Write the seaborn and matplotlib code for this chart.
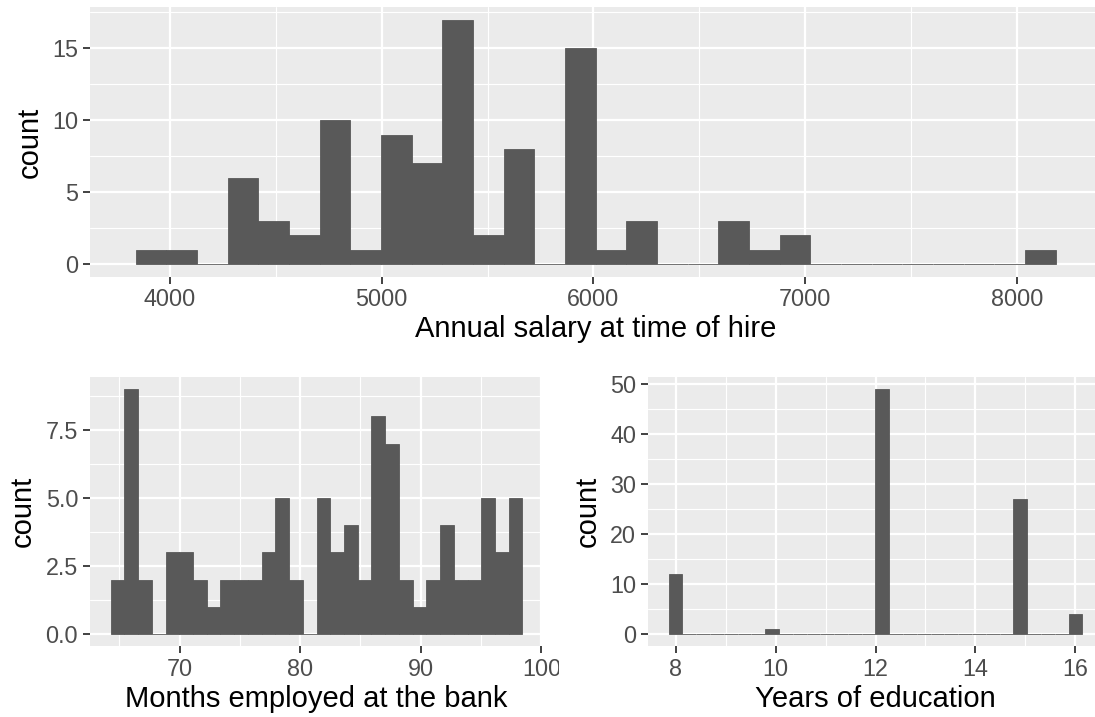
import numpy as np
import pandas as pd
import matplotlib
matplotlib.use("Agg")
import matplotlib.pyplot as plt
import seaborn as sns
from matplotlib.patches import Rectangle

# ------------------------------------------------------------
# Data (bin counts, 30 bins each)
# ------------------------------------------------------------
salary_bin_start = 3837.9
salary_bin_width = 144.83
salary_counts = [1, 1, 0, 6, 3, 2, 10, 1, 9, 7,
                 17, 2, 8, 0, 15, 1, 3, 0, 0, 3,
                 1, 2, 0, 0, 0, 0, 0, 0, 0, 1]

months_bin_start = 64.29
months_bin_width = 1.1379
months_counts = [2, 9, 2, 0, 3, 3, 2, 1, 2, 2,
                 2, 3, 5, 2, 0, 5, 3, 4, 2, 8,
                 7, 2, 1, 2, 4, 2, 2, 5, 3, 5]

educ_years = [8, 10, 12, 15, 16]
educ_counts = [12, 1, 49, 27, 4]
educ_bin_start = 7.862
educ_bin_width = 0.27586

n_bins = 30

BAR = "#595959"
BG = "#EBEBEB"

sns.set_theme(style="darkgrid")
plt.rcParams['font.family'] = ['Liberation Sans', 'DejaVu Sans']
plt.rcParams['axes.facecolor'] = BG
plt.rcParams['grid.color'] = 'white'

W, H = 1095, 717
fig = plt.figure(figsize=(W / 100, H / 100), dpi=100)
fig.patch.set_facecolor('white')

TICK_FS = 16.8
TITLE_FS = 21


def px_axes(x0, y0, x1, y1):
    return fig.add_axes([x0 / W, 1 - y1 / H, (x1 - x0) / W, (y1 - y0) / H])


def binned_frame(start, width, counts):
    edges = start + width * np.arange(len(counts) + 1)
    centers = (edges[:-1] + edges[1:]) / 2
    return pd.DataFrame({'x': centers, 'n': counts})


def draw_hist(ax, x, w, start, width):
    sns.histplot(x=x, weights=w, bins=n_bins,
                 binrange=(start, start + n_bins * width), ax=ax,
                 color=BAR, alpha=1, edgecolor=BAR, linewidth=0.6)


def style_axes(ax, xmajor, xminor, ymajor, yminor, ylabels=None):
    ax.set_xticks(xmajor, [str(v) for v in xmajor])
    ax.set_xticks(xminor, minor=True)
    if ylabels is None:
        ylabels = [str(v) for v in ymajor]
    ax.set_yticks(ymajor, ylabels)
    ax.set_yticks(yminor, minor=True)
    ax.grid(which='major', color='white', linewidth=1.6)
    ax.grid(which='minor', color='white', linewidth=0.8)
    ax.set_axisbelow(True)
    for s in ax.spines.values():
        s.set_visible(False)
    ax.tick_params(which='major', length=5, width=1.3, color='#333333',
                   labelsize=TICK_FS, labelcolor='#4D4D4D', pad=3.5,
                   bottom=True, left=True)
    ax.tick_params(which='minor', length=0)
    ax.set_ylabel('count', fontsize=TITLE_FS, color='black', labelpad=6)


# ---------------- top: salary ----------------
ax1 = px_axes(89.7, 7.3, 1101.5, 276.5)
df = binned_frame(salary_bin_start, salary_bin_width, salary_counts)
draw_hist(ax1, df['x'], df['n'], salary_bin_start, salary_bin_width)
ax1.set_xlim(3620.7, 8400)
ax1.set_ylim(-0.85, 17.85)
style_axes(ax1, [4000, 5000, 6000, 7000, 8000], [4500, 5500, 6500, 7500],
           [0, 5, 10, 15], [2.5, 7.5, 12.5, 17.5])
ax1.set_xlabel('Annual salary at time of hire', fontsize=TITLE_FS, color='black', labelpad=3)

# ---------------- bottom left: months ----------------
ax2 = px_axes(90, 377, 542, 646.2)
df = binned_frame(months_bin_start, months_bin_width, months_counts)
draw_hist(ax2, df['x'], df['n'], months_bin_start, months_bin_width)
ax2.set_xlim(62.58, 100.05)
ax2.set_ylim(-0.45, 9.45)
style_axes(ax2, [70, 80, 90, 100], [65, 75, 85, 95],
           [0, 2.5, 5, 7.5], [1.25, 3.75, 6.25, 8.75],
           ylabels=['0.0', '2.5', '5.0', '7.5'])
ax2.set_xlabel('Months employed at the bank', fontsize=TITLE_FS, color='black', labelpad=3)

# ---------------- bottom right: education ----------------
ax3 = px_axes(648, 377, 1103, 646.2)
draw_hist(ax3, educ_years, educ_counts, educ_bin_start, educ_bin_width)
ax3.set_xlim(7.448, 16.552)
ax3.set_ylim(-2.45, 51.45)
style_axes(ax3, [8, 10, 12, 14, 16], [9, 11, 13, 15],
           [0, 10, 20, 30, 40, 50], [5, 15, 25, 35, 45])
ax3.set_xlabel('Years of education', fontsize=TITLE_FS, color='black', labelpad=3)

# the "100" label is cut by the neighbouring panel's viewport
fig.add_artist(Rectangle((559 / W, 1 - 685 / H), 80 / W, 30 / H,
                         transform=fig.transFigure, facecolor='white',
                         edgecolor='none', zorder=10))

fig.savefig('out.png', dpi=100, facecolor='white')
